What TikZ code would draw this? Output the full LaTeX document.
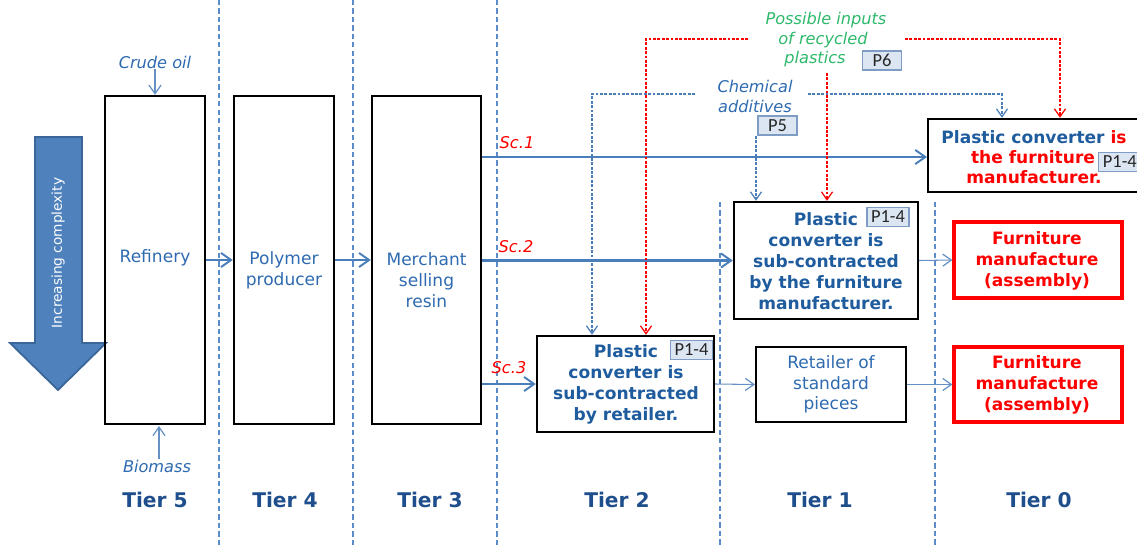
\documentclass[tikz,border=0pt]{standalone}
\usepackage{fontspec}
\setmainfont{DejaVu Sans}
\newfontfamily\tagfont{Carlito}
\usetikzlibrary{arrows.meta}
\definecolor{tierblue}{HTML}{1F4E8C}
\definecolor{boldblue}{HTML}{1F5C9E}
\definecolor{textblue}{HTML}{2E6AB0}
\definecolor{lineblue}{HTML}{4A7EBB}
\definecolor{sepblue}{HTML}{5B8BC9}
\definecolor{recgreen}{HTML}{2DB86A}
\definecolor{arrfill}{HTML}{4F81BD}
\definecolor{arrdraw}{HTML}{3A6699}
\definecolor{tagfill}{HTML}{DCE6F2}
\definecolor{tagdraw}{HTML}{7F9DC4}
\newcommand\fsnorm{\fontsize{9.7}{11.8}\selectfont}
\newcommand\fsital{\fontsize{9.2}{11.2}\selectfont\itshape}
\newcommand\fstier{\fontsize{11.5}{13}\selectfont\bfseries}
\newcommand\fsboxbf{\fontsize{9.7}{11.9}\selectfont\bfseries}
\begin{document}
\begin{tikzpicture}[x=0.02cm,y=-0.02cm,
  blk/.style={draw=black,line width=1.4pt,rectangle,inner sep=0pt},
  redbox/.style={draw=red,line width=1.8pt,rectangle,inner sep=0pt},
  txt/.style={inner sep=0pt,align=center,font=\fsnorm,text=textblue},
  bftxt/.style={inner sep=0pt,align=center,font=\fsboxbf,text=boldblue},
  redtxt/.style={inner sep=0pt,align=center,font=\fsboxbf,text=red},
  itxt/.style={inner sep=0pt,align=center,font=\fsital,text=textblue},
  sclabel/.style={inner sep=0pt,font=\fsital,text=red},
  tier/.style={inner sep=0pt,font=\fstier,text=tierblue},
  tag/.style={draw=tagdraw,fill=tagfill,line width=0.8pt,inner sep=0pt,
    minimum height=0.38cm,inner xsep=2.4pt,font=\tagfont\fontsize{10.5}{12}\selectfont,text=black!85},
  widetag/.style={tag,minimum width=0.78cm},
  sepline/.style={draw=sepblue,line width=0.6pt,dash pattern=on 3pt off 1.8pt},
  flow/.style={draw=lineblue,line width=1.3pt,-{Straight Barb[angle=70:7pt,line width=1.1pt]}},
  thinflow/.style={draw=lineblue!85,line width=0.6pt,-{Straight Barb[angle=70:6pt,line width=0.7pt]}},
  reddot/.style={draw=red,line width=0.7pt,dash pattern=on 1.6pt off 0.9pt},
  bluedot/.style={draw=lineblue,line width=0.7pt,dash pattern=on 1.6pt off 0.9pt},
  dottip/.style={-{Straight Barb[angle=70:5.5pt,line width=0.7pt]}}
]
\useasboundingbox (0,0) rectangle (1137,545);

% tier separators
\coordinate (s1t) at (219,0);   \coordinate (s1b) at (219,545);
\coordinate (s2t) at (353,0);   \coordinate (s2b) at (353,545);
\coordinate (s3t) at (497,0);   \coordinate (s3b) at (497,545);
\coordinate (s4t) at (720,202); \coordinate (s4b) at (720,545);
\coordinate (s5t) at (935,202); \coordinate (s5b) at (935,545);
\draw[sepline] (s1t) -- (s1b);
\draw[sepline] (s2t) -- (s2b);
\draw[sepline] (s3t) -- (s3b);
\draw[sepline] (s4t) -- (s4b);
\draw[sepline] (s5t) -- (s5b);

% big arrow
\draw[fill=arrfill,draw=arrdraw,line width=1pt]
  (35,137) -- (82,137) -- (82,343) -- (106,343) -- (58,390) -- (10,343) -- (35,343) -- cycle;
\node[rotate=90,inner sep=0pt,text=white,font=\fontsize{7.8}{9}\selectfont] (cplx) at (58,253) {Increasing complexity};

% tier 5-3 boxes
\node[blk,minimum width=2cm,minimum height=6.56cm] (ref) at (155,260) {};
\node[blk,minimum width=2cm,minimum height=6.56cm] (poly) at (284,260) {};
\node[blk,minimum width=2.18cm,minimum height=6.56cm] (merch) at (426.5,260) {};
\node[txt] (reft) at (155,258) {Refinery};
\node[txt] (polyt) at (284,270) {Polymer\\producer};
\node[txt] (mercht) at (426.5,280) {Merchant\\selling\\resin};

\node[itxt] (crude) at (155,62) {Crude oil};
\node[itxt] (bio) at (157,466) {Biomass};
\draw[thinflow] (crude.south) -- (crude.south |- ref.north);
\draw[thinflow] (bio.north -| 159,0) -- (159,426);

\draw[flow] (ref.east) -- (poly.west);
\draw[flow] (poly.east) -- (merch.west);

% right-hand boxes
\begin{scope}
\clip (0,0) rectangle (1137,545);
\node[blk,minimum width=4.5cm,minimum height=1.46cm,anchor=west] (t0) at (927,155.5) {};
\node[tag,anchor=west] (t0tag) at (1098,162) {P1-4};
\end{scope}
\node[bftxt] (t0a) at (1034,137) {Plastic converter \textcolor{red}{is}};
\node[redtxt] (t0b) at (1033,157.5) {the furniture};
\node[redtxt] (t0c) at (1034,177) {manufacturer.};

\node[blk,minimum width=3.68cm,minimum height=2.34cm] (t1) at (826,260.5) {};
\node[bftxt] (t1t) at (826,261) {Plastic\\converter is\\sub-contracted\\by the furniture\\manufacturer.};
\node[tag] (t1tag) at (888,217) {P1-4};

\node[blk,minimum width=3.54cm,minimum height=1.92cm] (t2) at (625.5,384) {};
\node[bftxt] (t2t) at (626,384) {Plastic\\converter is\\sub-contracted\\by retailer.};
\node[tag] (t2tag) at (691.5,350) {P1-4};

\node[blk,line width=1.2pt,minimum width=3cm,minimum height=1.5cm] (ret) at (831,384.5) {};
\node[txt] (rett) at (831,384.5) {Retailer of\\standard\\pieces};

\node[redbox,minimum width=3.36cm,minimum height=1.52cm] (f1) at (1038,260) {};
\node[redtxt] (f1t) at (1037,260.5) {Furniture\\manufacture\\(assembly)};
\node[redbox,minimum width=3.36cm,minimum height=1.5cm] (f2) at (1038,384.5) {};
\node[redtxt] (f2t) at (1037,385) {Furniture\\manufacture\\(assembly)};

% scenario flows
\draw[flow] (merch.east |- t0.west) ++(0,1.5) coordinate (sc1s) -- (sc1s -| t0.west);
\draw[flow] (merch.east |- t1.west) -- (t1.west);
\draw[flow] (merch.east |- t2.west) -- (t2.west);
\node[sclabel] (sc1) at (517,143) {Sc.1};
\node[sclabel] (sc2) at (516,247) {Sc.2};
\node[sclabel] (sc3) at (509,368) {Sc.3};

\draw[thinflow] (t1.east) -- (f1.west);
\draw[thinflow] (t2.east) -- (ret.west);
\draw[thinflow] (ret.east) -- (f2.west);

% recycled plastics inputs
\node[inner sep=0pt,align=center,font=\fsital,text=recgreen] (rec1) at (826,20) {Possible inputs};
\node[inner sep=0pt,align=center,font=\fsital,text=recgreen] (rec2) at (823,40) {of recycled};
\node[inner sep=0pt,align=center,font=\fsital,text=recgreen] (rec3) at (815,59.5) {plastics};
\node[widetag] (p6) at (882,60.5) {P6};

\coordinate (rLs) at (748,39);
\coordinate (rL) at (646,39);
\coordinate (rRs) at (905,39);
\coordinate (rR) at (1060,39);
\coordinate (rC) at (827,73);
\draw[reddot,dottip] (rLs) -- (rL) -- (rL |- t2.north);
\draw[reddot,dottip] (rRs) -- (rR) -- (rR |- t0.north);
\draw[reddot,dottip] (rC) -- (rC |- t1.north);

% chemical additives
\node[itxt] (chem) at (755,96.5) {Chemical\\additives};
\node[widetag] (p5) at (777.5,125.5) {P5};
\coordinate (bLs) at (695,94);
\coordinate (bL) at (592,94);
\coordinate (bRs) at (808,94);
\coordinate (bR) at (1002,94);
\coordinate (bC) at (756,136);
\draw[bluedot,dottip] (bLs) -- (bL) -- (bL |- t2.north);
\draw[bluedot,dottip] (bRs) -- (bR) -- (bR |- t0.north);
\draw[bluedot,dottip] (bC) -- (bC |- t1.north);

% tier labels
\node[tier] (tier5) at (155,500) {Tier 5};
\node[tier] (tier4) at (285,500) {Tier 4};
\node[tier] (tier3) at (430,500) {Tier 3};
\node[tier] (tier2) at (617,500) {Tier 2};
\node[tier] (tier1) at (820,500) {Tier 1};
\node[tier] (tier0) at (1039,500) {Tier 0};
\end{tikzpicture}
\end{document}
